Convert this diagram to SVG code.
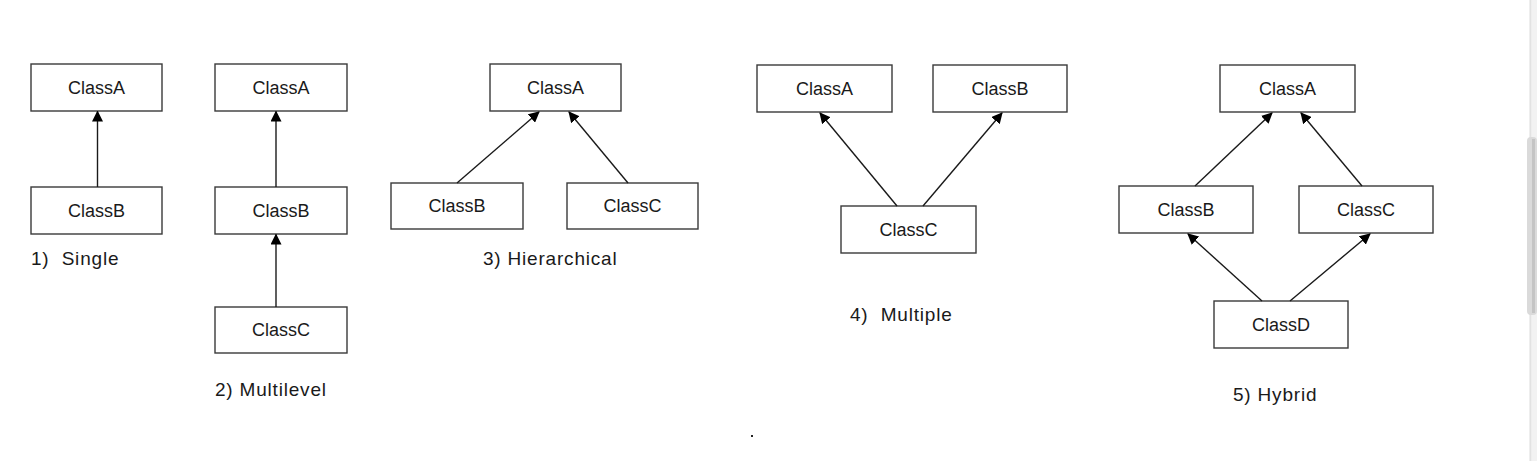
<svg xmlns="http://www.w3.org/2000/svg" width="1537" height="461" viewBox="0 0 1537 461">
<style>
.box rect{fill:#fff;stroke:#3a3a3a;stroke-width:1.4}
text{font-family:"Liberation Sans",Arial,sans-serif;font-size:18px;fill:#1a1a1a;white-space:pre}
.box text{text-anchor:middle}
.lbl{font-size:19px;letter-spacing:0.8px}
.conn line{stroke:#1a1a1a;stroke-width:1.4;marker-end:url(#ah)}
</style>
<defs>
<marker id="ah" markerUnits="userSpaceOnUse" markerWidth="11" markerHeight="11" refX="10" refY="5.5" orient="auto" viewBox="0 0 11 11">
<path d="M0,0 L11,5.5 L0,11 z" fill="#000"/>
</marker>
</defs>
<rect width="1537" height="461" fill="#fff"/>
<!-- scrollbar -->
<rect x="1529" y="0" width="8" height="461" fill="#f2f2f2"/>
<line x1="1530.5" y1="0" x2="1530.5" y2="461" stroke="#e2e2e2" stroke-width="1.5"/>
<rect x="1527" y="137" width="10" height="178" rx="4" fill="#dadada"/>
<rect x="1532" y="139" width="3" height="174" fill="#c4c4c4"/>

<!-- 1) Single -->
<g id="s1-A" class="box"><rect x="31" y="64" width="131" height="47"/><text x="96.5" y="94">ClassA</text></g>
<g id="s1-B" class="box"><rect x="31" y="187" width="131" height="47"/><text x="96.5" y="217">ClassB</text></g>
<text id="lbl1" class="lbl" x="31" y="265" xml:space="preserve">1)  Single</text>

<!-- 2) Multilevel -->
<g id="m2-A" class="box"><rect x="215" y="64" width="132" height="47"/><text x="281" y="94">ClassA</text></g>
<g id="m2-B" class="box"><rect x="215" y="187" width="132" height="47"/><text x="281" y="217">ClassB</text></g>
<g id="m2-C" class="box"><rect x="215" y="307" width="132" height="46"/><text x="281" y="336">ClassC</text></g>
<text id="lbl2" class="lbl" x="215" y="396">2) Multilevel</text>

<!-- 3) Hierarchical -->
<g id="h3-A" class="box"><rect x="490" y="64" width="131" height="47"/><text x="555.5" y="94">ClassA</text></g>
<g id="h3-B" class="box"><rect x="391" y="183" width="132" height="46"/><text x="457" y="212">ClassB</text></g>
<g id="h3-C" class="box"><rect x="567" y="183" width="131" height="46"/><text x="632.5" y="212">ClassC</text></g>
<text id="lbl3" class="lbl" x="483" y="265">3) Hierarchical</text>

<!-- 4) Multiple -->
<g id="p4-A" class="box"><rect x="757" y="65" width="135" height="47"/><text x="824.5" y="95">ClassA</text></g>
<g id="p4-B" class="box"><rect x="933" y="65" width="134" height="47"/><text x="1000" y="95">ClassB</text></g>
<g id="p4-C" class="box"><rect x="841" y="206" width="135" height="47"/><text x="908.5" y="236">ClassC</text></g>
<text id="lbl4" class="lbl" x="850" y="321" xml:space="preserve">4)  Multiple</text>

<!-- 5) Hybrid -->
<g id="y5-A" class="box"><rect x="1220" y="65" width="135" height="47"/><text x="1287.5" y="95">ClassA</text></g>
<g id="y5-B" class="box"><rect x="1119" y="186" width="134" height="47"/><text x="1186" y="216">ClassB</text></g>
<g id="y5-C" class="box"><rect x="1299" y="186" width="134" height="47"/><text x="1366" y="216">ClassC</text></g>
<g id="y5-D" class="box"><rect x="1214" y="301" width="134" height="47"/><text x="1281" y="331">ClassD</text></g>
<text id="lbl5" class="lbl" x="1233" y="401">5) Hybrid</text>

<g id="connectors" class="conn">
<line x1="97.5" y1="187" x2="97.5" y2="111.5"/>
<line x1="276" y1="187" x2="276" y2="111.5"/>
<line x1="276" y1="307" x2="276" y2="234.5"/>
<line x1="457" y1="183" x2="539" y2="112"/>
<line x1="628" y1="183" x2="569" y2="112"/>
<line x1="897" y1="206" x2="820" y2="113"/>
<line x1="923" y1="206" x2="1002" y2="113"/>
<line x1="1195" y1="186" x2="1272" y2="113"/>
<line x1="1362" y1="186" x2="1301" y2="113"/>
<line x1="1262" y1="301" x2="1188" y2="234"/>
<line x1="1290" y1="301" x2="1370" y2="234"/>
</g>
<rect x="751" y="435" width="2" height="2" fill="#222"/>
</svg>
